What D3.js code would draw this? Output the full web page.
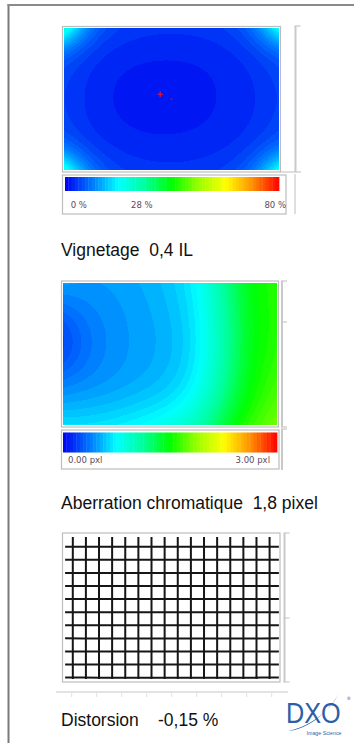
<!DOCTYPE html>
<html>
<head>
<meta charset="utf-8">
<script src="https://cdn.jsdelivr.net/npm/d3@7"></script>
<style>
  html, body { margin: 0; padding: 0; background: #fff; }
  svg { display: block; }
  text { white-space: pre; }
</style>
</head>
<body>
<svg id="chart" width="354" height="743"></svg>
<script>
// ---- Measurements -------------------------------------------------------
// Vignetting map (% light loss), rows top -> bottom, columns left -> right
const vignetteGrid = [
  [24.0, 8.0, 4.8, 4.2, 4.0, 4.2, 4.8, 7.6, 21.0],
  [8.0, 4.2, 3.2, 2.8, 2.7, 2.8, 3.3, 4.4, 7.6],
  [5.2, 3.4, 2.4, 2.0, 2.0, 2.2, 2.7, 3.6, 5.4],
  [5.0, 3.2, 2.2, 1.8, 1.8, 2.1, 2.6, 3.4, 5.0],
  [5.2, 3.4, 2.5, 2.1, 2.1, 2.3, 2.8, 3.6, 5.4],
  [8.0, 4.3, 3.3, 2.9, 2.8, 3.0, 3.4, 4.5, 7.6],
  [23.0, 8.4, 5.0, 4.3, 4.1, 4.3, 5.0, 7.9, 21.0]
];
const vignetteMax = 80;
const vignetteTicks = [0, 28, 80];
const vignetteTickLabels = ["0 %", "28 %", "80 %"];

// Lateral chromatic aberration map (pixels)
const caGrid = [
  [0.48, 0.46, 0.48, 0.52, 0.58, 0.72, 1.12, 1.50, 1.58],
  [0.36, 0.42, 0.46, 0.50, 0.56, 0.69, 1.08, 1.48, 1.58],
  [0.22, 0.38, 0.45, 0.49, 0.54, 0.67, 1.06, 1.47, 1.58],
  [0.22, 0.38, 0.45, 0.49, 0.54, 0.67, 1.06, 1.48, 1.60],
  [0.36, 0.42, 0.47, 0.51, 0.57, 0.71, 1.10, 1.50, 1.64],
  [0.50, 0.52, 0.55, 0.60, 0.66, 0.82, 1.20, 1.55, 1.70],
  [0.66, 0.66, 0.70, 0.76, 0.84, 1.00, 1.36, 1.64, 1.78]
];
const caMax = 3;
const caTicks = [0, 3];
const caTickLabels = ["0.00 pxl", "3.00 pxl"];

// Sensor frame (mm) with brightest point and image centre
const sensorSize = [36, 24];
const brightestPoint = [16.1, 11.2];
const imageCenter = [18, 12];

// Distortion test grid
const gridColumns = 16;
const gridRows = 11;
const distortionPct = -0.15;

// Summary captions
const captions = ["Vignetage  0,4 IL", "Aberration chromatique  1,8 pixel"];
const distortionCaption = ["Distorsion", "-0,15 %"];

// ---- Colour scale (banded jet) -----------------------------------------
const jetStops = [0, 0.125, 0.25, 0.375, 0.5, 0.625, 0.75, 0.875, 1];
const jetColors = ["#0000f0", "#0078ff", "#00ffff", "#00ff9a", "#00ff00",
                   "#9aff00", "#ffff00", "#ff9000", "#ff0000"];
const jet = d3.scaleLinear().domain(jetStops).range(jetColors).interpolate(d3.interpolateRgb);
const BANDS = 64;
function bandedScale(max) {
  return d3.scaleQuantize().domain([0, max])
    .range(d3.range(BANDS).map(i => jet((i + 0.5) / BANDS)));
}

const svg = d3.select("#chart");
const FRAME = "#bdbdbd";
const BRACKET = "#c9c9c9";

// page border
svg.append("line").attr("x1", 8.5).attr("x2", 8.5).attr("y1", 4).attr("y2", 743)
  .attr("stroke", "#7a7a7a").attr("stroke-width", 2);
svg.append("line").attr("x1", 7.5).attr("x2", 354).attr("y1", 5).attr("y2", 5)
  .attr("stroke", "#8a8a8a").attr("stroke-width", 2);

// Smooth field rendered through the grid scales and banded colour scale
function drawField(grid, max, x0, y0, w, h) {
  const cols = grid[0].length, rows = grid.length;
  const gx = d3.scaleLinear().domain([0, cols - 1]).range([0, w]);
  const gy = d3.scaleLinear().domain([0, rows - 1]).range([0, h]);
  const color = bandedScale(max);
  const rowInterp = grid.map(r => d3.interpolateBasis(r));
  const canvas = document.createElement("canvas");
  canvas.width = w; canvas.height = h;
  const ctx = canvas.getContext("2d");
  const img = ctx.createImageData(w, h);
  const cache = new Map();
  for (let px = 0; px < w; px++) {
    const u = gx.invert(px + 0.5) / (cols - 1);
    const colInterp = d3.interpolateBasis(rowInterp.map(f => f(u)));
    for (let py = 0; py < h; py++) {
      const v = gy.invert(py + 0.5) / (rows - 1);
      const c = color(colInterp(v));
      let rgb = cache.get(c);
      if (!rgb) { rgb = d3.rgb(c); cache.set(c, rgb); }
      const k = (py * w + px) * 4;
      img.data[k] = rgb.r; img.data[k + 1] = rgb.g; img.data[k + 2] = rgb.b; img.data[k + 3] = 255;
    }
  }
  ctx.putImageData(img, 0, 0);
  svg.append("image").attr("x", x0).attr("y", y0).attr("width", w).attr("height", h)
    .attr("preserveAspectRatio", "none").attr("href", canvas.toDataURL());
}

function drawColorbar(max, x0, x1, y0, h, ticks, labels, labelY, firstX, lastX, midOffset) {
  const sx = d3.scaleLinear().domain([0, max]).range([x0, x1]);
  const color = bandedScale(max);
  const step = max / BANDS;
  svg.append("g").selectAll("rect").data(d3.range(BANDS)).join("rect")
    .attr("x", i => sx(i * step)).attr("y", y0)
    .attr("width", i => sx((i + 1) * step) - sx(i * step) + 0.4).attr("height", h)
    .attr("fill", i => color((i + 0.5) * step));
  svg.append("g").selectAll("text").data(ticks).join("text")
    .attr("x", (d, i) => i === 0 ? firstX : (i === ticks.length - 1 ? lastX : sx(d) + midOffset))
    .attr("y", labelY)
    .attr("text-anchor", (d, i) => i === 0 ? "start" : (i === ticks.length - 1 ? "end" : "middle"))
    .attr("font-family", "DejaVu Sans").attr("font-size", 8.5).attr("fill", "#5a4a5c")
    .text((d, i) => labels[i]);
}

function frame(x, y, w, h) {
  svg.append("rect").attr("x", x).attr("y", y).attr("width", w).attr("height", h)
    .attr("fill", "none").attr("stroke", FRAME).attr("stroke-width", 1.2);
}

function bracket(x, y0, y1, ticks) {
  svg.append("line").attr("x1", x).attr("x2", x).attr("y1", y0).attr("y2", y1)
    .attr("stroke", BRACKET).attr("stroke-width", 2);
  ticks.forEach(t => svg.append("line").attr("x1", x - 1).attr("x2", x + 5)
    .attr("y1", t).attr("y2", t).attr("stroke", BRACKET).attr("stroke-width", 1.2));
}

function caption(text, x, y) {
  svg.append("text").attr("x", x).attr("y", y)
    .attr("font-family", "Liberation Sans, Arial, sans-serif").attr("font-size", 17.5)
    .attr("fill", "#111").text(text);
}

// ---- Vignetting ---------------------------------------------------------
frame(62.5, 26.5, 218, 145.5);
drawField(vignetteGrid, vignetteMax, 64, 28, 215, 142);
{
  const sx = d3.scaleLinear().domain([0, sensorSize[0]]).range([64, 279]);
  const sy = d3.scaleLinear().domain([0, sensorSize[1]]).range([28, 170]);
  const [bx, by] = [sx(brightestPoint[0]), sy(brightestPoint[1])];
  svg.append("path").attr("d", `M${bx - 3},${by}H${bx + 3}M${bx},${by - 3}V${by + 3}`)
    .attr("stroke", "#e0163c").attr("stroke-width", 1.2);
  svg.append("circle").attr("cx", sx(imageCenter[0])).attr("cy", sy(imageCenter[1]))
    .attr("r", 0.9).attr("fill", "#b0103a");
}
bracket(295.5, 26, 172, [26]);
svg.append("line").attr("x1", 280).attr("x2", 301).attr("y1", 172).attr("y2", 172)
  .attr("stroke", BRACKET).attr("stroke-width", 1.2);
svg.append("line").attr("x1", 295).attr("x2", 295).attr("y1", 174).attr("y2", 214)
  .attr("stroke", BRACKET).attr("stroke-width", 1.2);
frame(62.5, 175, 223.5, 39);
drawColorbar(vignetteMax, 65, 279, 177, 14, vignetteTicks, vignetteTickLabels, 208, 70.7, 286, 2);
caption(captions[0], 61, 255.5);

// ---- Chromatic aberration ----------------------------------------------
frame(61.5, 281, 217, 146);
drawField(caGrid, caMax, 63, 283, 214, 142);
bracket(282, 281, 427, [281, 322, 427]);
bracket(282, 429, 470, [429]);
frame(61.5, 430, 217.5, 39);
drawColorbar(caMax, 63, 277, 432.5, 20, caTicks, caTickLabels, 463, 68, 270, 0);
caption(captions[1], 61, 509);

// ---- Distortion grid ---------------------------------------------------
frame(62.5, 533, 217.5, 149);
{
  const lx = d3.scaleLinear().domain([0, gridColumns - 1]).range([72.7, 269.7]);
  const ly = d3.scaleLinear().domain([0, gridRows - 1]).range([546.7, 677.7]);
  const cx = 171.2, cy = 607.5;
  const rMax = Math.hypot(109, 74);
  const k = distortionPct / 100;
  const warp = ([x, y]) => {
    const dx = x - cx, dy = y - cy, r = Math.hypot(dx, dy) / rMax;
    const f = 1 + k * r * r;
    return [cx + dx * f, cy + dy * f];
  };
  const line = d3.line();
  const vRange = [ly.invert(537), ly.invert(679)];
  const hRange = [lx.invert(65), lx.invert(279)];
  const g = svg.append("g").attr("fill", "none").attr("stroke", "#161616").attr("stroke-width", 2);
  g.selectAll("path.v").data(d3.range(gridColumns)).join("path").attr("class", "v")
    .attr("d", i => line(d3.range(vRange[0], vRange[1] + 1e-6, (vRange[1] - vRange[0]) / 10)
      .map(j => warp([lx(i), ly(j)]))));
  g.selectAll("path.h").data(d3.range(gridRows)).join("path").attr("class", "h")
    .attr("d", j => line(d3.range(hRange[0], hRange[1] + 1e-6, (hRange[1] - hRange[0]) / 12)
      .map(i => warp([lx(i), ly(j)]))));
}
bracket(284.5, 533, 682, [533, 618, 682]);
svg.append("line").attr("x1", 56).attr("x2", 288).attr("y1", 692).attr("y2", 692)
  .attr("stroke", "#c8c8c8").attr("stroke-width", 1.2);
svg.append("g").selectAll("line").data(d3.range(9)).join("line")
  .attr("x1", i => 71.7 + 25 * i).attr("x2", i => 71.7 + 25 * i)
  .attr("y1", 693).attr("y2", 697).attr("stroke", "#e2e2e2").attr("stroke-width", 1);
caption(distortionCaption[0], 61, 726);
caption(distortionCaption[1], 158, 726);

// ---- Logo -------------------------------------------------------------
{
  const blue = "#2c5fa8";
  svg.append("g").attr("transform", "translate(286,723) scale(0.87,1)")
    .append("text").attr("x", 0).attr("y", 0)
    .attr("font-family", "Liberation Sans, Arial, sans-serif").attr("font-size", 29)
    .attr("fill", blue).text("DXO");
  svg.append("path")
    .attr("d", "M288,731 C305,730 326,716 340,692 C329,713 308,727 288,731 Z")
    .attr("fill", blue);
  svg.append("text").attr("x", 346.5).attr("y", 700).attr("font-family", "DejaVu Sans")
    .attr("font-size", 4.5).attr("fill", blue).text("®");
  svg.append("text").attr("x", 306.5).attr("y", 734.5).attr("font-family", "Liberation Sans")
    .attr("font-size", 5).attr("textLength", 35).attr("lengthAdjust", "spacingAndGlyphs")
    .attr("fill", blue).text("Image Science");
}
</script>
</body>
</html>
